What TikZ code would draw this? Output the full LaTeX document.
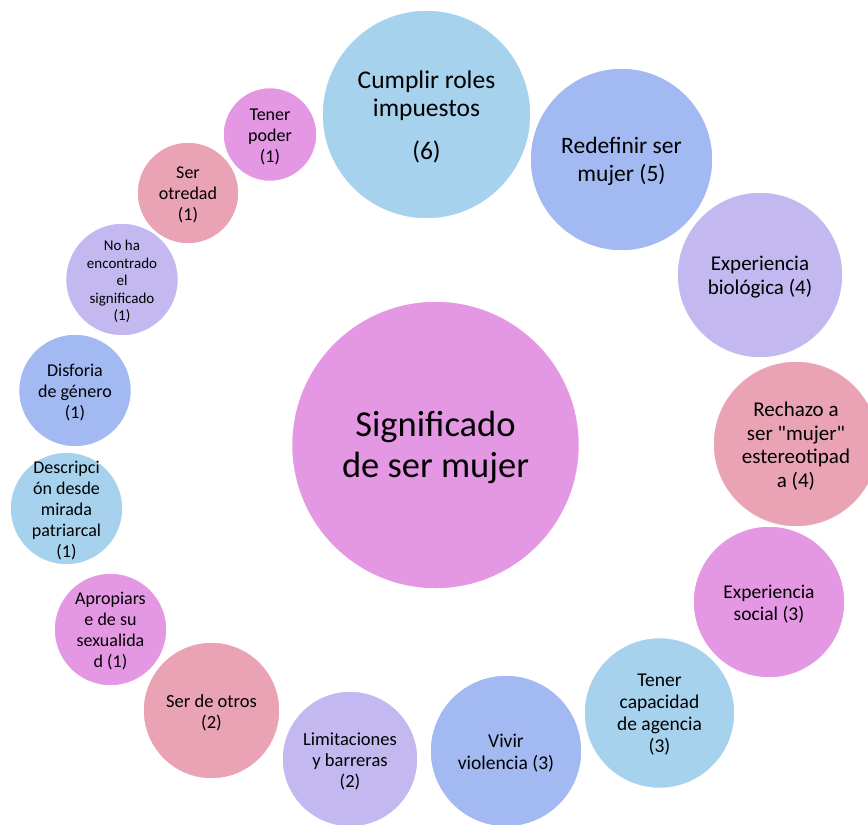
\documentclass[tikz,border=0pt]{standalone}
\usepackage{fontspec}
\setmainfont{Carlito}[Ligatures=TeXOff]

\definecolor{bPink}{HTML}{E497E3}
\definecolor{bSky}{HTML}{A7D2ED}
\definecolor{bPeri}{HTML}{A3B9F2}
\definecolor{bLav}{HTML}{C3B8EF}
\definecolor{bRose}{HTML}{EAA2B5}

\tikzset{
  bub/.style={circle, draw=white, line width=1.5pt, inner sep=0pt, outer sep=0pt},
  lbl/.style={align=center, inner sep=0pt, text=black, yshift=-2pt},
}

% \bubble{name}{x,y}{diameter}{colour}{font}{text}
\newcommand\bubble[6]{%
  \node[bub, fill=#4, minimum size=#3pt] (#1) at (#2) {};
  \node[lbl, font=#5] (#1-t) at (#1.center) {#6};
}

\begin{document}
\begin{tikzpicture}[x=1pt,y=-1pt]
  \useasboundingbox (0,0) rectangle (868,825);

  \bubble{cumplir}{426.5,114.5}{209}{bSky}{\fontsize{25.5}{28}\selectfont}{Cumplir roles\\impuestos\\[15pt](6)}
  \bubble{redef}{621.5,159.5}{183}{bPeri}{\fontsize{23.5}{28}\selectfont}{Redefinir ser\\mujer (5)}
  \bubble{bio}{760,275}{166}{bLav}{\fontsize{21}{24}\selectfont}{Experiencia\\biológica (4)}
  \bubble{rechazo}{796,444}{166}{bRose}{\fontsize{21}{23.5}\selectfont}{Rechazo a\\ser "mujer"\\estereotipad\\a (4)}
  \bubble{social}{769,602}{152}{bPink}{\fontsize{19.5}{22}\selectfont}{Experiencia\\social (3)}
  \bubble{agencia}{659.5,713}{151}{bSky}{\fontsize{19.5}{22}\selectfont}{Tener\\capacidad\\de agencia\\(3)}
  \bubble{violencia}{506,751}{152}{bPeri}{\fontsize{19.5}{22}\selectfont}{Vivir\\violencia (3)}
  \bubble{limites}{350,759}{136}{bLav}{\fontsize{18.5}{21}\selectfont}{Limitaciones\\y barreras\\(2)}
  \bubble{otros}{211.5,710.5}{137}{bRose}{\fontsize{18.5}{21}\selectfont}{Ser de otros\\(2)}
  \bubble{apropiar}{110.5,629.5}{113}{bPink}{\fontsize{18}{21}\selectfont}{Apropiars\\e de su\\sexualida\\d (1)}
  \bubble{descr}{66.5,508.5}{113}{bSky}{\fontsize{18}{21}\selectfont}{Descripci\\ón desde\\mirada\\patriarcal\\(1)}
  \bubble{disforia}{75,390.5}{113}{bPeri}{\fontsize{18}{21}\selectfont}{Disforia\\de género\\(1)}
  \bubble{noha}{122,279.5}{113}{bLav}{\fontsize{15}{17.5}\selectfont}{No ha\\encontrado\\el\\significado\\(1)}
  \bubble{otredad}{188,193}{102}{bRose}{\fontsize{18}{21}\selectfont}{Ser\\otredad\\(1)}
  \bubble{poder}{270,134.5}{94}{bPink}{\fontsize{18}{21}\selectfont}{Tener\\poder\\(1)}

  \bubble{centro}{435.5,445}{288}{bPink}{\fontsize{36.5}{41}\selectfont}{Significado\\de ser mujer}
\end{tikzpicture}
\end{document}
